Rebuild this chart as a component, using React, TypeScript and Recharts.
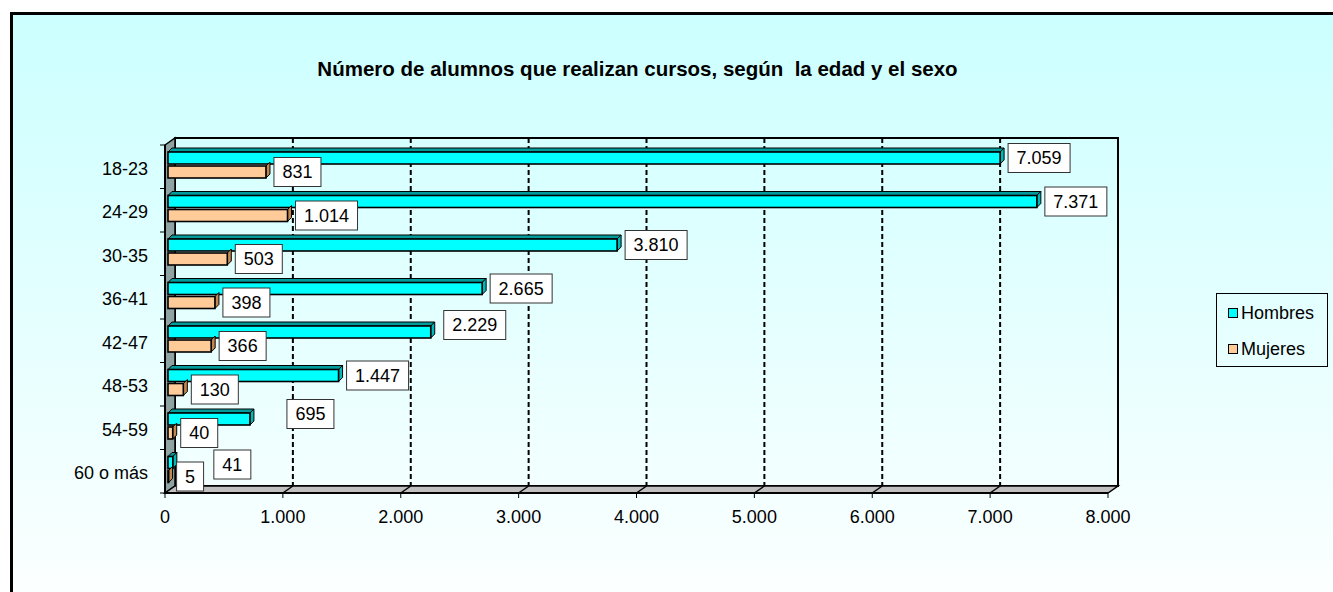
import React from 'react';
import {
  BarChart,
  Bar,
  XAxis,
  YAxis,
  CartesianGrid,
  ReferenceArea,
  LabelList,
} from 'recharts';

const categories = ['18-23', '24-29', '30-35', '36-41', '42-47', '48-53', '54-59', '60 o más'];
const hombres = [7059, 7371, 3810, 2665, 2229, 1447, 695, 41];
const mujeres = [831, 1014, 503, 398, 366, 130, 40, 5];
const xTicks = [0, 1000, 2000, 3000, 4000, 5000, 6000, 7000, 8000];

const FONT = '"Liberation Sans", Arial, sans-serif';
const W = 1333;
const H = 592;
const PLOT_LEFT = 165;
const PLOT_RIGHT = 1108;
const PLOT_TOP = 145;
const PLOT_BOTTOM = 493;
const DEPTH_X = 10;
const DEPTH_Y = 7;
const BAR_DX = 3;
const BAR_DY = -2;
const BAR_D = 4;

// Excel moved a few labels around to avoid overlaps
const labelNudge: Record<string, [number, number]> = {
  'h-42-47': [5, -7],
  'h-54-59': [29, -5],
  'h-60 o más': [33, 2],
};

const fmt = (v: number) => String(v).replace(/\B(?=(\d{3})+(?!\d))/g, '.');

const chartData = categories.map((cat, i) => ({ cat, hombres: hombres[i], mujeres: mujeres[i] }));

function make3DBar(front: string, top: string, side: string, showTop: boolean) {
  return (props: any) => {
    const { x, y, width, height } = props;
    if (x == null || y == null) return <g />;
    const x0 = x + BAR_DX;
    const y0 = y + BAR_DY;
    const x1 = x0 + Math.max(width, 0);
    const y1 = y0 + height;
    return (
      <g>
        {showTop && (
          <polygon
            points={`${x0},${y0} ${x0 + BAR_D},${y0 - BAR_D} ${x1 + BAR_D},${y0 - BAR_D} ${x1},${y0}`}
            fill={top}
            stroke="#000"
            strokeWidth={1}
          />
        )}
        <polygon
          points={`${x1},${y0} ${x1 + BAR_D},${y0 - BAR_D} ${x1 + BAR_D},${y1 - BAR_D} ${x1},${y1}`}
          fill={side}
          stroke="#000"
          strokeWidth={1}
        />
        <rect x={x0} y={y0} width={Math.max(width, 0)} height={height} fill={front} stroke="#000" strokeWidth={1.6} />
      </g>
    );
  };
}

function makeLabel(prefix: string) {
  return (props: any) => {
    const vb = props.viewBox || {};
    const x = props.x ?? vb.x;
    const y = props.y ?? vb.y;
    const width = props.width ?? vb.width;
    const height = props.height ?? vb.height;
    const { value, index } = props;
    const text = fmt(Number(value));
    let tw = 0;
    for (const ch of text) tw += ch === '.' ? 5 : 10;
    const bw = tw + 17;
    const bh = 29;
    const nudge = labelNudge[`${prefix}-${categories[index]}`] || [0, 0];
    const left = x + width + BAR_DX + BAR_D + 4 + nudge[0];
    const cy = y + BAR_DY + height / 2 + nudge[1];
    return (
      <g>
        <rect x={left} y={cy - bh / 2} width={bw} height={bh} fill="#fff" stroke="#333" strokeWidth={1} />
        <text
          x={left + bw / 2}
          y={cy}
          dy="0.36em"
          textAnchor="middle"
          fontFamily={FONT}
          fontSize={18}
          fill="#000"
        >
          {text}
        </text>
      </g>
    );
  };
}

function Walls(props: any) {
  const { x, y, width, height } = props;
  const r = x + width;
  const b = y + height;
  return (
    <g>
      <rect x={x + DEPTH_X} y={y - DEPTH_Y} width={width} height={height} fill="none" stroke="#000" strokeWidth={2} />
      <polygon
        points={`${x},${y} ${x + DEPTH_X},${y - DEPTH_Y} ${x + DEPTH_X},${b - DEPTH_Y} ${x},${b}`}
        fill="#8FA3A3"
        stroke="#000"
        strokeWidth={1.5}
      />
      <polygon
        points={`${x},${b} ${x + DEPTH_X},${b - DEPTH_Y} ${r + DEPTH_X},${b - DEPTH_Y} ${r},${b}`}
        fill="#C0C0C0"
        stroke="#000"
        strokeWidth={1.5}
      />
    </g>
  );
}

function GridLine(props: any) {
  const { x1, y1, y2 } = props;
  if (Math.abs(x1 - PLOT_LEFT) < 1 || Math.abs(x1 - PLOT_RIGHT) < 1) return <g key={props.key} />;
  const bx = x1 + DEPTH_X;
  return (
    <g key={props.key}>
      <line x1={bx} y1={y1 - DEPTH_Y} x2={bx} y2={y2 - DEPTH_Y} stroke="#000" strokeWidth={2} strokeDasharray="5 3" />
      <line x1={bx} y1={y2 - DEPTH_Y} x2={x1} y2={y2} stroke="#000" strokeWidth={1.5} />
    </g>
  );
}

function CatTick(props: any) {
  const { y, payload, index } = props;
  const band = (PLOT_BOTTOM - PLOT_TOP) / categories.length;
  return (
    <g>
      <line x1={PLOT_LEFT - 5} y1={y - band / 2} x2={PLOT_LEFT} y2={y - band / 2} stroke="#000" />
      {index === categories.length - 1 && (
        <line x1={PLOT_LEFT - 5} y1={y + band / 2} x2={PLOT_LEFT} y2={y + band / 2} stroke="#000" />
      )}
      <text x={PLOT_LEFT - 17} y={y + 1.5} dy="0.36em" textAnchor="end" fontFamily={FONT} fontSize={18} fill="#000">
        {payload.value}
      </text>
    </g>
  );
}

const legendItems = [
  { name: 'Hombres', color: '#00FFFF' },
  { name: 'Mujeres', color: '#FFCC99' },
];

export default function App() {
  return (
    <div style={{ position: 'fixed', left: 0, top: 0, width: W, height: H, overflow: 'hidden', background: '#fff' }}>
      <div
        style={{
          position: 'absolute',
          left: 10,
          top: 12,
          width: 1360,
          height: 620,
          border: '3px solid #000',
          background: 'linear-gradient(to bottom, #CCFFFF 0%, #FFFFFF 100%)',
        }}
      />
      <div
        style={{
          position: 'absolute',
          left: 0,
          top: 57,
          width: 1275,
          textAlign: 'center',
          whiteSpace: 'pre',
          fontFamily: FONT,
          fontWeight: 'bold',
          fontSize: 20.5,
          lineHeight: '24px',
          color: '#000',
        }}
      >
        Número de alumnos que realizan cursos, según  la edad y el sexo
      </div>
      <div style={{ position: 'absolute', left: 0, top: 0 }}>
        <BarChart
          width={W}
          height={H}
          data={chartData}
          layout="vertical"
          margin={{ top: PLOT_TOP, right: W - PLOT_RIGHT, bottom: H - PLOT_BOTTOM - 40, left: PLOT_LEFT - 100 }}
          barSize={12}
          barGap={2}
        >
          <ReferenceArea x1={0} x2={8000} shape={Walls} ifOverflow="visible" zIndex={-200} />
          <CartesianGrid horizontal={false} vertical={GridLine} zIndex={-150} />
          <XAxis
            type="number"
            domain={[0, 8000]}
            ticks={xTicks}
            interval={0}
            height={40}
            tickFormatter={fmt}
            axisLine={{ stroke: '#000', strokeWidth: 2 }}
            tickLine={{ stroke: '#000' }}
            tickSize={5}
            tickMargin={12}
            tick={{ fill: '#000', fontSize: 18, fontFamily: FONT }}
          />
          <YAxis
            type="category"
            dataKey="cat"
            width={100}
            axisLine={{ stroke: '#000', strokeWidth: 2 }}
            tickLine={false}
            tick={CatTick}
            interval={0}
          />
          <Bar
            dataKey="hombres"
            fill="#00FFFF"
            isAnimationActive={false}
            shape={make3DBar('#00FFFF', '#009C9C', '#00B8B8', true)}
          >
            <LabelList dataKey="hombres" content={makeLabel('h')} />
          </Bar>
          <Bar
            dataKey="mujeres"
            fill="#FFCC99"
            isAnimationActive={false}
            shape={make3DBar('#FFCC99', '#C89868', '#C08850', false)}
          >
            <LabelList dataKey="mujeres" content={makeLabel('m')} />
          </Bar>
        </BarChart>
      </div>
      <div
        style={{
          position: 'absolute',
          left: 1216,
          top: 293,
          width: 110,
          height: 72,
          border: '1px solid #000',
          fontFamily: FONT,
          fontSize: 18,
          color: '#000',
        }}
      >
        {legendItems.map((it, i) => (
          <div
            key={it.name}
            style={{ position: 'absolute', left: 11, top: 9 + i * 36, height: 20, display: 'flex', alignItems: 'center' }}
          >
            <span
              style={{
                display: 'inline-block',
                width: 8,
                height: 8,
                background: it.color,
                border: '1px solid #000',
                marginRight: 3,
              }}
            />
            <span>{it.name}</span>
          </div>
        ))}
      </div>
    </div>
  );
}
